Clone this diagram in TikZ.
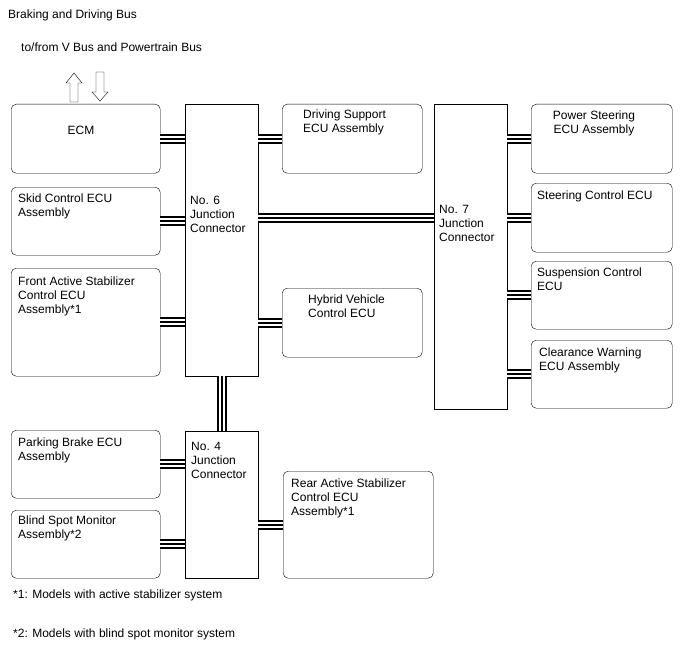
\documentclass[tikz,border=0pt]{standalone}
\usepackage{fontspec}
\setmainfont{Liberation Sans}
\begin{document}
\begin{tikzpicture}[x=1pt, y=-1pt,
  every node/.style={font=\fontsize{12}{14}\selectfont},
  ecubox/.style={draw, rounded corners=5pt, anchor=north west, inner sep=0pt},
  jbox/.style={draw, anchor=north west, inner sep=0pt, minimum width=73pt},
  txt/.style={anchor=north west, inner sep=0pt, align=left},
  bus/.style={line width=10pt, postaction={draw, white, line width=6pt}, postaction={draw, black, line width=2pt}}]
\useasboundingbox (0,0) rectangle (688,658);
\node[txt] (title) at (8,10) {Braking and Driving Bus};
\node[txt] (vbus) at (21,43) {to/from V Bus and Powertrain Bus};
\draw (70,102) -- (70,83) -- (66,83) -- (74,73) -- (82,83) -- (78,83) -- (78,102) -- cycle;
\draw (96,72) -- (96,92) -- (92,92) -- (100,101) -- (108,92) -- (104,92) -- (104,72) -- cycle;
\node[ecubox, minimum width=149pt, minimum height=69pt] (ecm) at (11,104) {};
\node[ecubox, minimum width=149pt, minimum height=68pt] (skid) at (11,187) {};
\node[ecubox, minimum width=149pt, minimum height=108pt] (fas) at (11,268) {};
\node[jbox, minimum height=272pt] (j6) at (185,104) {};
\node[ecubox, minimum width=140pt, minimum height=69pt] (dsa) at (282,104) {};
\node[ecubox, minimum width=140pt, minimum height=69pt] (hv) at (282,288) {};
\node[jbox, minimum height=305pt] (j7) at (434,104) {};
\node[ecubox, minimum width=141pt, minimum height=69pt] (ps) at (531,104) {};
\node[ecubox, minimum width=141pt, minimum height=69pt] (stc) at (531,183) {};
\node[ecubox, minimum width=141pt, minimum height=68pt] (susp) at (531,261) {};
\node[ecubox, minimum width=141pt, minimum height=68pt] (clw) at (531,340) {};
\node[jbox, minimum height=147pt] (j4) at (185,431) {};
\node[ecubox, minimum width=149pt, minimum height=68pt] (pkb) at (11,430) {};
\node[ecubox, minimum width=149pt, minimum height=68pt] (bsm) at (11,510) {};
\node[ecubox, minimum width=150pt, minimum height=107pt] (ras) at (283,471) {};
\node[anchor=north, inner sep=0pt] (ecm-t) at (81,126) {ECM};
\node[txt] (skid-t) at (18,194) {Skid Control ECU\\Assembly};
\node[txt] (fas-t) at (18,277) {Front Active Stabilizer\\Control ECU\\Assembly*1};
\node[txt] (j6-t) at (190,196) {No. 6\\Junction\\Connector};
\node[txt] (dsa-t) at (303,110) {Driving Support\\ECU Assembly};
\node[txt] (hv-t) at (308,295) {Hybrid Vehicle\\Control ECU};
\node[txt] (j7-t) at (439,205) {No. 7\\Junction\\Connector};
\node[anchor=north, inner sep=0pt, align=center] (ps-t) at (594,111) {Power Steering\\ECU Assembly};
\node[txt] (stc-t) at (537,191) {Steering Control ECU};
\node[txt] (susp-t) at (537,268) {Suspension Control\\ECU};
\node[txt] (clw-t) at (539,348) {Clearance Warning\\ECU Assembly};
\node[txt] (j4-t) at (191,442) {No. 4\\Junction\\Connector};
\node[txt] (pkb-t) at (18,438) {Parking Brake ECU\\Assembly};
\node[txt] (bsm-t) at (18,516) {Blind Spot Monitor\\Assembly*2};
\node[txt] (ras-t) at (291,479) {Rear Active Stabilizer\\Control ECU\\Assembly*1};
\node[txt] (note1) at (13,590) {*1: Models with active stabilizer system};
\node[txt] (note2) at (13,629) {*2: Models with blind spot monitor system};
\draw[bus] (ecm.east) -- (ecm.east -| j6.west);
\draw[bus] (skid.east) -- (skid.east -| j6.west);
\draw[bus] (fas.east) -- (fas.east -| j6.west);
\draw[bus] (dsa.west) -- (dsa.west -| j6.east);
\draw[bus] (hv.west) -- (hv.west -| j6.east);
\draw[bus] (j6.east |- stc.west) -- (j7.west |- stc.west);
\draw[bus] (j6.south) -- (j4.north);
\draw[bus] (ps.west) -- (ps.west -| j7.east);
\draw[bus] (stc.west) -- (stc.west -| j7.east);
\draw[bus] (susp.west) -- (susp.west -| j7.east);
\draw[bus] (clw.west) -- (clw.west -| j7.east);
\draw[bus] (pkb.east) -- (pkb.east -| j4.west);
\draw[bus] (bsm.east) -- (bsm.east -| j4.west);
\draw[bus] (ras.west) -- (ras.west -| j4.east);
\end{tikzpicture}
\end{document}
